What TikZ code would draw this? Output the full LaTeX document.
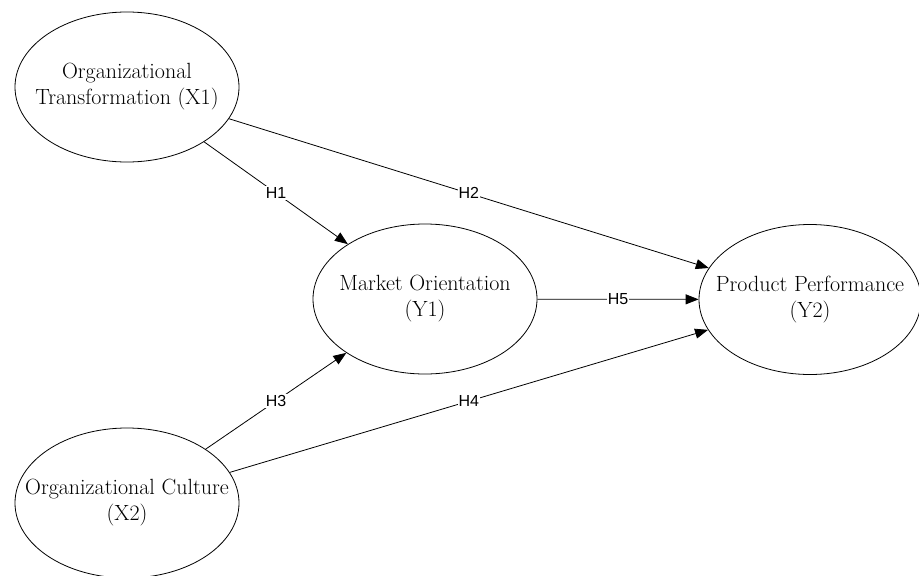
\documentclass[tikz,border=0pt]{standalone}
\usepackage{fontspec}
\newfontfamily\labelfont{Liberation Sans}
\usetikzlibrary{shapes.geometric,arrows.meta}
\begin{document}
\begin{tikzpicture}[x=1pt,y=-1pt,
  construct/.style={ellipse,draw,line width=0.8pt,minimum width=224pt,minimum height=150pt,inner xsep=-40pt,inner ysep=0pt,align=center,font=\fontsize{22}{26}\selectfont},
  path/.style={draw,line width=0.8pt,-{Triangle[length=13pt,width=10pt]}},
  hyp/.style={fill=white,inner sep=1pt,font=\labelfont\fontsize{16}{18}\selectfont}]
\useasboundingbox (0,0) rectangle (919,576);
\node[construct] (x1) at (127,87) {Organizational\\Transformation (X1)};
\node[construct] (y1) at (425,299) {Market Orientation\\(Y1)};
\node[construct,minimum width=222pt] (y2) at (810,299.5) {Product Performance\\(Y2)};
\node[construct] (x2) at (127,503) {Organizational Culture\\(X2)};
\draw[path] (x1) -- node[hyp] {H1} (y1);
\draw[path] (x1) -- node[hyp] {H2} (y2);
\draw[path] (y1) -- node[hyp] {H5} (y2);
\draw[path] (x2) -- node[hyp] {H3} (y1);
\draw[path] (x2) -- node[hyp] {H4} (y2);
\end{tikzpicture}
\end{document}
